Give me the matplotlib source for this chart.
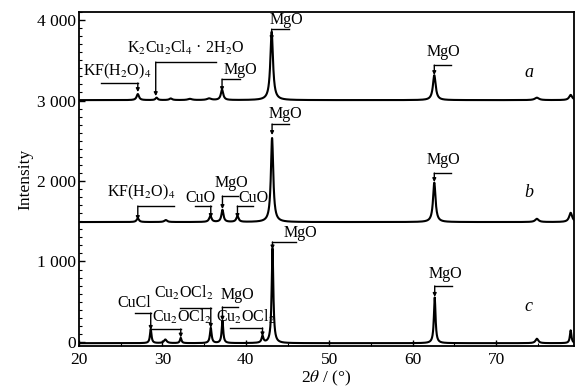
import numpy as np
import matplotlib.pyplot as plt
from matplotlib.ticker import MultipleLocator, FuncFormatter

plt.rcParams['font.family'] = ['Liberation Serif', 'DejaVu Serif']
plt.rcParams['mathtext.fontset'] = 'stix'

# peak lists: position (2theta), height, half width
a_base = 3005
a_pos = [27.05, 29.3, 31.0, 33.3, 35.6, 37.15, 43.1, 62.6, 74.9, 78.95]
a_height = [75, 30, 20, 15, 20, 130, 850, 310, 30, 65]
a_width = [0.17, 0.15, 0.2, 0.3, 0.3, 0.17, 0.19, 0.2, 0.3, 0.22]

b_base = 1490
b_pos = [27.05, 30.4, 35.75, 37.2, 39.0, 43.15, 62.6, 74.9, 78.95]
b_height = [45, 25, 75, 150, 70, 1045, 490, 40, 115]
b_width = [0.17, 0.2, 0.17, 0.15, 0.17, 0.17, 0.18, 0.25, 0.22]

c_base = -15
c_pos = [28.6, 30.35, 32.2, 35.8, 37.2, 42.0, 43.2, 62.65, 74.9, 78.95]
c_height = [175, 45, 65, 190, 280, 85, 1180, 570, 55, 160]
c_width = [0.11, 0.2, 0.11, 0.12, 0.11, 0.13, 0.12, 0.12, 0.2, 0.11]

# annotations: label, peak x, arrow tip y, bracket top y, horizontal end x, text x, text y
a_notes = [
    ("KF(H$_2$O)$_4$", 27.05, 3105, 3217, 22.6, 24.6, 3366),
    ("K$_2$Cu$_2$Cl$_4$ · 2H$_2$O", 29.2, 3055, 3478, 36.4, 32.8, 3651),
    ("MgO", 37.15, 3117, 3266, 39.3, 39.4, 3378),
    ("MgO", 43.1, 3751, 3887, 45.2, 44.9, 3999),
    ("MgO", 62.6, 3316, 3440, 64.6, 63.7, 3602),
]
b_notes = [
    ("KF(H$_2$O)$_4$", 27.05, 1515, 1689, 31.4, 27.5, 1863),
    ("CuO", 35.8, 1540, 1689, 33.9, 34.6, 1788),
    ("MgO", 37.2, 1652, 1813, 39.1, 38.3, 1975),
    ("CuO", 39.0, 1540, 1689, 40.9, 40.9, 1788),
    ("MgO", 43.15, 2571, 2708, 45.2, 44.8, 2832),
    ("MgO", 62.6, 1987, 2099, 64.6, 63.7, 2260),
]
c_notes = [
    ("CuCl", 28.6, 150, 360, 26.7, 26.6, 484),
    ("Cu$_2$OCl$_2$", 32.2, 55, 161, 28.6, 32.3, 311),
    ("Cu$_2$OCl$_2$", 35.8, 175, 422, 32.1, 32.6, 609),
    ("MgO", 37.2, 265, 435, 39.1, 39.0, 584),
    ("Cu$_2$OCl$_2$", 42.0, 70, 174, 38.1, 40.0, 311),
    ("MgO", 43.2, 1150, 1242, 46.0, 46.6, 1354),
    ("MgO", 62.65, 560, 696, 64.7, 63.9, 845),
]
sample_labels = ["a", "b", "c"]
sample_label_y = [3353, 1863, 435]


def pattern(x, base, pos, height, width):
    y = np.full_like(x, base, dtype=float)
    for p, h, w in zip(pos, height, width):
        y += h / (1 + ((x - p) / w) ** 2)
    return y


two_theta = np.linspace(20, 79.4, 3000)

fig = plt.figure(figsize=(5.76, 3.91), dpi=100)
ax = fig.add_axes([79 / 576, 45 / 391, 495 / 576, 334 / 391])

for base, pos, height, width in [(a_base, a_pos, a_height, a_width),
                                 (b_base, b_pos, b_height, b_width),
                                 (c_base, c_pos, c_height, c_width)]:
    ax.plot(two_theta, pattern(two_theta, base, pos, height, width),
            color="black", lw=1.5)

for notes in [a_notes, b_notes, c_notes]:
    for text, px, tip, top, hx, tx, ty in notes:
        ax.plot([hx, px], [top, top], color="black", lw=1.0)
        ax.annotate("", xy=(px, tip), xytext=(px, top),
                    arrowprops=dict(arrowstyle="-|>", lw=1.0, color="black",
                                    mutation_scale=5, shrinkA=0, shrinkB=0))
        ax.text(tx, ty, text, ha="center", va="center", fontsize=11.5)

for lab, ly in zip(sample_labels, sample_label_y):
    ax.text(73.9, ly, lab, ha="center", va="center", fontsize=13, style="italic")

ax.set_xlim(20, 79.35)
ax.set_ylim(-50, 4100)
ax.xaxis.set_major_locator(MultipleLocator(10))
ax.xaxis.set_minor_locator(MultipleLocator(5))
ax.yaxis.set_major_locator(MultipleLocator(1000))
ax.yaxis.set_minor_locator(MultipleLocator(100))
ax.yaxis.set_major_formatter(FuncFormatter(lambda v, _: f"{int(v):,}".replace(",", " ")))
ax.tick_params(which="both", direction="in", top=False, right=False, labelsize=12.5)
ax.tick_params(which="major", length=4, width=1.0, pad=2)
ax.tick_params(axis="x", which="major", pad=4)
ax.tick_params(which="minor", length=2.5, width=0.8)
for s in ax.spines.values():
    s.set_linewidth(1.3)

ax.set_xlabel("2$\\mathit{\\theta}$ / (°)", fontsize=12.5, labelpad=1)
ax.set_ylabel("Intensity", fontsize=12.5, labelpad=3)

plt.savefig("out.png", dpi=100)
